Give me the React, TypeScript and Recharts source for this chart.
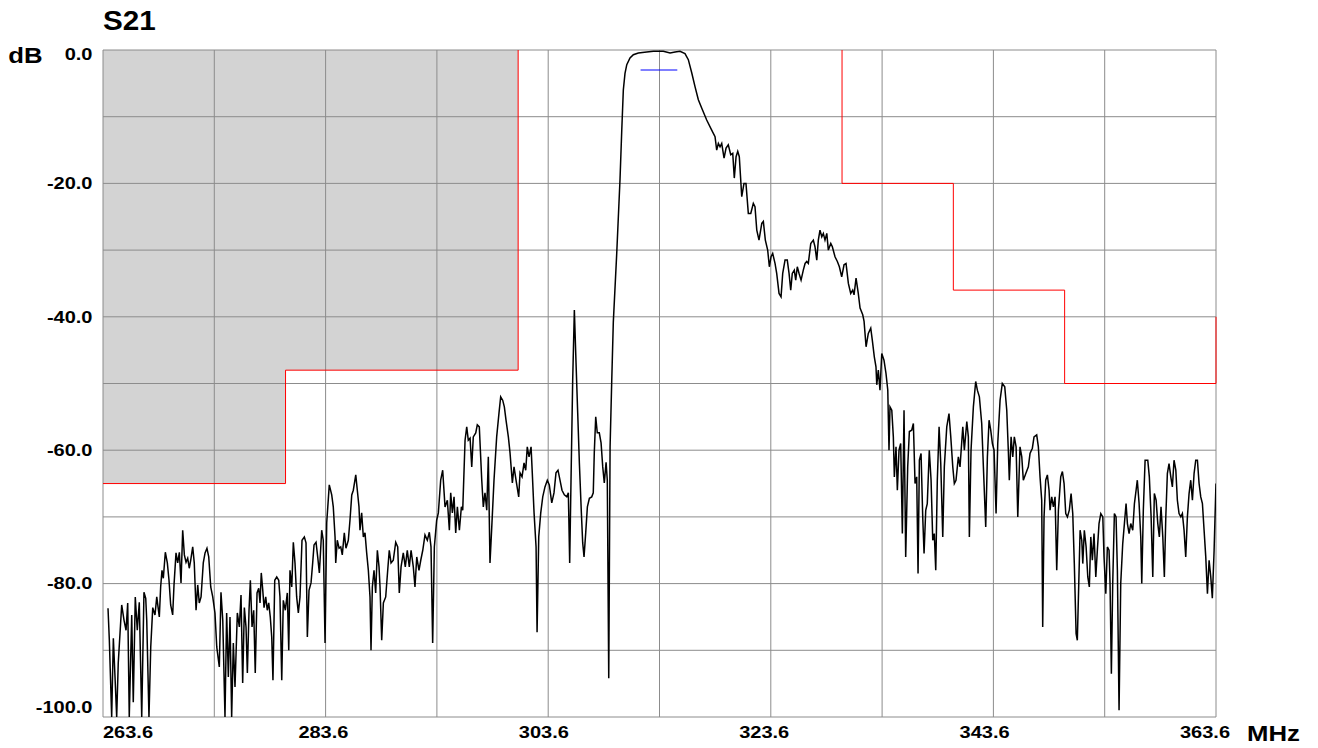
import React from "react";
import {
  LineChart,
  Line,
  XAxis,
  YAxis,
  ReferenceArea,
  ReferenceLine,
} from "recharts";

// Axis ticks (grid every 10 MHz / 10 dB, labels every 20)
const xTicks = [263.6, 273.6, 283.6, 293.6, 303.6, 313.6, 323.6, 333.6, 343.6, 353.6, 363.6];
const yTicks = [0, -10, -20, -30, -40, -50, -60, -70, -80, -90, -100];

// Measured S21 trace: [frequency MHz, level dB]
const s21Trace: [number, number][] = [
  [264.05, -83.7], [264.17, -88.5], [264.38, -100], [264.53, -88.2], [264.68, -94.0], [264.83, -100],
  [264.97, -91.9], [265.13, -87.4], [265.28, -83.2], [265.49, -85.5], [265.67, -87.0], [265.82, -82.9],
  [265.96, -100], [266.18, -84.7], [266.32, -97.8], [266.5, -82.0], [266.68, -87.0], [266.86, -82.8],
  [267.08, -100], [267.28, -81.3], [267.44, -82.2], [267.53, -85.5], [267.73, -100], [267.89, -89.5],
  [268.07, -83.6], [268.27, -84.7], [268.43, -82.0], [268.66, -85.0], [268.78, -80.5], [268.9, -78.0],
  [269.02, -79.2], [269.2, -75.3], [269.38, -76.9], [269.53, -79.5], [269.68, -83.2], [269.86, -84.7],
  [269.98, -80.2], [270.16, -75.4], [270.31, -76.9], [270.46, -75.3], [270.61, -79.9], [270.76, -72.0],
  [270.91, -75.7], [271.06, -76.8], [271.21, -76.2], [271.35, -77.7], [271.48, -76.5], [271.66, -74.5],
  [271.8, -76.9], [271.96, -84.0], [272.11, -80.2], [272.25, -82.9], [272.41, -82.0], [272.61, -76.9],
  [272.77, -75.4], [272.94, -74.7], [273.1, -76.0], [273.28, -80.5], [273.46, -82.0], [273.66, -84.4],
  [273.82, -89.5], [274.05, -92.5], [274.2, -81.3], [274.36, -85.5], [274.56, -100], [274.71, -84.4],
  [274.86, -94.0], [275.01, -85.0], [275.16, -100], [275.31, -88.9], [275.46, -95.5], [275.67, -84.4],
  [275.85, -86.5], [276.0, -81.7], [276.15, -94.9], [276.3, -83.6], [276.45, -86.5], [276.57, -93.4],
  [276.72, -84.0], [276.84, -79.5], [276.99, -86.5], [277.14, -84.0], [277.28, -93.4], [277.44, -81.4],
  [277.59, -80.7], [277.71, -82.9], [277.82, -78.4], [277.95, -80.9], [278.07, -83.6], [278.22, -82.0],
  [278.36, -84.0], [278.49, -82.9], [278.63, -85.0], [278.76, -88.0], [278.87, -94.5], [279.03, -79.5],
  [279.21, -79.0], [279.39, -79.5], [279.5, -82.0], [279.66, -94.5], [279.8, -82.5], [279.98, -84.0],
  [280.16, -81.4], [280.29, -90.0], [280.4, -78.0], [280.56, -80.5], [280.7, -73.8], [280.85, -76.9],
  [281.0, -82.0], [281.15, -84.4], [281.3, -82.0], [281.48, -73.5], [281.69, -73.0], [281.84, -73.9],
  [281.96, -88.0], [282.11, -81.0], [282.29, -79.9], [282.44, -76.9], [282.56, -74.2], [282.74, -73.8],
  [282.89, -76.0], [283.04, -78.4], [283.25, -72.0], [283.39, -73.5], [283.55, -88.9], [283.7, -70.9],
  [283.93, -65.2], [284.15, -66.7], [284.29, -68.5], [284.45, -73.0], [284.51, -76.9], [284.65, -73.5],
  [284.81, -74.7], [284.96, -74.5], [285.1, -75.7], [285.28, -72.4], [285.43, -74.7], [285.64, -73.5],
  [285.79, -70.5], [285.95, -66.7], [286.09, -66.0], [286.31, -63.7], [286.45, -66.0], [286.6, -68.5],
  [286.69, -72.0], [286.84, -69.4], [286.99, -73.0], [287.14, -72.4], [287.29, -75.4], [287.44, -78.0],
  [287.59, -82.0], [287.68, -90.0], [287.8, -80.5], [287.95, -78.0], [288.1, -81.4], [288.25, -75.0],
  [288.4, -77.5], [288.49, -80.5], [288.64, -88.5], [288.79, -82.9], [289.0, -82.0], [289.18, -78.0],
  [289.32, -75.0], [289.48, -76.9], [289.68, -76.5], [289.9, -73.8], [290.08, -74.5], [290.22, -81.4],
  [290.38, -77.5], [290.58, -75.4], [290.76, -77.5], [290.94, -75.0], [291.12, -77.5], [291.28, -75.0],
  [291.48, -77.5], [291.63, -80.5], [291.79, -76.0], [291.99, -78.0], [292.15, -76.5], [292.33, -75.0],
  [292.53, -72.7], [292.74, -73.5], [292.92, -72.3], [293.07, -74.5], [293.22, -88.9], [293.37, -74.5],
  [293.58, -70.5], [293.73, -69.4], [293.94, -64.5], [294.12, -63.0], [294.33, -68.5], [294.54, -67.5],
  [294.72, -72.0], [294.84, -66.4], [294.99, -69.4], [295.14, -67.0], [295.29, -72.4], [295.44, -68.5],
  [295.62, -72.0], [295.8, -68.5], [295.92, -69.0], [296.13, -58.5], [296.28, -56.5], [296.42, -58.5],
  [296.58, -58.2], [296.73, -62.5], [296.87, -58.0], [297.09, -57.4], [297.23, -56.2], [297.41, -56.5],
  [297.63, -64.5], [297.77, -68.5], [297.92, -66.4], [298.08, -69.0], [298.22, -61.0], [298.37, -76.9],
  [298.53, -71.5], [298.73, -64.5], [298.97, -58.0], [299.18, -54.4], [299.33, -52.0], [299.51, -52.5],
  [299.66, -53.5], [299.81, -55.5], [300.02, -58.0], [300.17, -60.4], [300.38, -64.9], [300.53, -62.5],
  [300.71, -64.5], [300.95, -67.0], [301.07, -63.4], [301.25, -64.0], [301.43, -61.9], [301.58, -63.0],
  [301.72, -59.5], [301.88, -61.0], [302.06, -59.5], [302.17, -63.4], [302.33, -69.4], [302.51, -74.5],
  [302.6, -87.3], [302.75, -73.0], [302.93, -69.4], [303.11, -67.0], [303.31, -65.5], [303.52, -64.5],
  [303.7, -65.2], [303.92, -67.9], [304.12, -66.4], [304.3, -63.4], [304.48, -63.0], [304.66, -64.5],
  [304.84, -66.0], [305.05, -66.7], [305.27, -67.0], [305.41, -66.4], [305.53, -76.9], [305.65, -64.5],
  [305.8, -49.5], [305.95, -39.0], [306.1, -46.9], [306.25, -54.4], [306.4, -61.9], [306.58, -69.4],
  [306.7, -73.9], [306.82, -76.0], [306.97, -72.4], [307.12, -68.5], [307.3, -67.2], [307.51, -67.0],
  [307.65, -66.4], [307.74, -60.4], [307.87, -55.0], [308.01, -57.4], [308.19, -57.4], [308.35, -58.9],
  [308.5, -62.5], [308.64, -64.9], [308.8, -61.8], [308.91, -64.5], [309.04, -94.2], [309.16, -59.5],
  [309.31, -49.5], [309.45, -40.8], [309.76, -30.4], [310.05, -19.5], [310.21, -12.0], [310.35, -6.0],
  [310.5, -3.5], [310.66, -2.2], [310.95, -1.2], [311.25, -0.7], [311.7, -0.45], [312.45, -0.3],
  [313.05, -0.2], [313.94, -0.2], [314.55, -0.45], [315.0, -0.3], [315.44, -0.2], [315.89, -0.55],
  [316.19, -1.45], [316.5, -3.45], [316.79, -5.5], [317.09, -7.45], [317.39, -8.7], [317.84, -10.5],
  [318.29, -12.0], [318.59, -13.0], [318.74, -15.0], [318.89, -14.0], [319.04, -14.5], [319.19, -14.0],
  [319.4, -16.2], [319.58, -14.7], [319.78, -14.2], [320.0, -15.7], [320.18, -15.5], [320.32, -19.2],
  [320.48, -16.0], [320.63, -15.2], [320.77, -16.0], [320.99, -22.0], [321.19, -20.0], [321.37, -20.0],
  [321.58, -24.5], [321.8, -24.5], [322.03, -23.0], [322.18, -23.5], [322.34, -27.0], [322.54, -28.5],
  [322.79, -26.0], [322.93, -25.7], [323.11, -28.5], [323.32, -30.0], [323.47, -32.5], [323.62, -31.0],
  [323.77, -30.5], [323.98, -32.0], [324.13, -33.5], [324.34, -36.5], [324.52, -37.0], [324.67, -33.5],
  [324.88, -31.5], [325.08, -31.5], [325.24, -33.5], [325.39, -36.0], [325.53, -33.5], [325.71, -33.0],
  [325.84, -34.5], [325.98, -32.5], [326.14, -33.5], [326.32, -34.5], [326.52, -33.0], [326.68, -32.0],
  [326.83, -31.7], [326.97, -32.0], [327.19, -29.0], [327.42, -28.5], [327.57, -29.5], [327.73, -31.5],
  [327.87, -28.5], [328.02, -27.0], [328.18, -28.0], [328.32, -27.5], [328.47, -28.5], [328.63, -27.5],
  [328.77, -30.0], [328.99, -29.0], [329.13, -29.5], [329.37, -31.0], [329.58, -31.7], [329.76, -32.5],
  [329.97, -34.0], [330.18, -32.2], [330.36, -32.0], [330.57, -35.0], [330.78, -36.5], [330.96, -36.0],
  [331.08, -36.7], [331.26, -34.2], [331.46, -36.5], [331.62, -38.7], [331.86, -39.7], [331.98, -40.7],
  [332.16, -44.5], [332.36, -42.5], [332.58, -41.7], [332.72, -43.5], [332.9, -46.0], [333.05, -47.5],
  [333.12, -50.2], [333.26, -48.0], [333.41, -51.0], [333.57, -45.5], [333.77, -46.5], [333.95, -48.5],
  [334.11, -51.0], [334.22, -60.0], [334.31, -53.5], [334.47, -54.0], [334.61, -58.0], [334.7, -64.0],
  [334.85, -59.5], [334.97, -66.0], [335.12, -60.0], [335.27, -59.0], [335.42, -72.5], [335.57, -54.0],
  [335.72, -76.0], [335.9, -62.5], [336.05, -57.2], [336.26, -57.0], [336.41, -56.0], [336.56, -65.0],
  [336.71, -64.0], [336.83, -78.5], [336.95, -61.5], [337.1, -60.5], [337.25, -70.0], [337.37, -75.5],
  [337.52, -69.0], [337.66, -68.0], [337.84, -60.0], [338.0, -64.5], [338.15, -73.5], [338.29, -72.5],
  [338.42, -78.0], [338.56, -64.5], [338.72, -56.5], [338.87, -62.0], [339.05, -73.0], [339.19, -62.5],
  [339.41, -56.5], [339.61, -54.5], [339.77, -58.0], [339.95, -62.5], [340.09, -65.0], [340.24, -64.5],
  [340.45, -61.0], [340.6, -62.5], [340.85, -56.5], [340.99, -60.0], [341.21, -55.7], [341.35, -58.0],
  [341.44, -73.0], [341.59, -60.0], [341.8, -53.5], [342.01, -49.7], [342.16, -51.0], [342.34, -52.0],
  [342.55, -56.0], [342.7, -62.5], [342.91, -71.5], [343.06, -61.0], [343.21, -55.5], [343.36, -57.0],
  [343.51, -59.0], [343.66, -60.0], [343.84, -69.5], [343.99, -59.0], [344.2, -52.5], [344.4, -50.0],
  [344.62, -50.5], [344.8, -54.0], [344.94, -60.0], [345.03, -64.5], [345.19, -58.0], [345.34, -61.0],
  [345.48, -58.0], [345.64, -59.5], [345.79, -70.0], [345.99, -59.5], [346.15, -61.0], [346.29, -64.5],
  [346.51, -63.5], [346.74, -62.5], [346.89, -60.5], [347.1, -59.7], [347.25, -58.0], [347.49, -57.7],
  [347.64, -59.5], [347.79, -64.0], [347.94, -67.5], [348.03, -86.5], [348.15, -70.0], [348.3, -64.5],
  [348.45, -63.7], [348.6, -66.0], [348.69, -69.0], [348.84, -67.0], [348.99, -68.5], [349.14, -67.0],
  [349.29, -78.0], [349.44, -69.0], [349.65, -64.0], [349.8, -63.2], [349.95, -65.0], [350.1, -69.5],
  [350.25, -70.0], [350.42, -69.0], [350.58, -66.5], [350.73, -69.5], [350.87, -77.0], [351.03, -87.5],
  [351.14, -88.5], [351.27, -80.0], [351.39, -72.0], [351.54, -73.5], [351.63, -77.0], [351.77, -72.0],
  [351.93, -74.5], [352.08, -79.0], [352.22, -80.5], [352.35, -73.0], [352.49, -76.5], [352.64, -72.5],
  [352.8, -79.0], [352.94, -75.0], [353.09, -71.0], [353.25, -69.5], [353.43, -70.0], [353.54, -76.0],
  [353.7, -81.5], [353.84, -74.5], [353.99, -75.0], [354.08, -80.0], [354.2, -93.5], [354.32, -80.0],
  [354.47, -69.5], [354.62, -70.0], [354.74, -78.0], [354.89, -99.0], [355.04, -80.0], [355.22, -74.0],
  [355.37, -71.0], [355.52, -68.0], [355.64, -71.0], [355.79, -72.5], [355.94, -71.0], [356.12, -72.0],
  [356.27, -68.0], [356.42, -66.0], [356.53, -64.5], [356.69, -68.0], [356.84, -73.0], [356.93, -80.0],
  [357.07, -69.0], [357.23, -61.5], [357.47, -61.5], [357.61, -64.0], [357.77, -70.0], [357.92, -79.0],
  [358.06, -66.5], [358.22, -67.5], [358.37, -71.0], [358.51, -73.0], [358.66, -68.5], [358.82, -73.0],
  [358.96, -79.0], [359.09, -70.0], [359.23, -63.5], [359.38, -62.0], [359.54, -64.0], [359.68, -65.5],
  [359.83, -61.5], [359.99, -63.0], [360.13, -67.5], [360.28, -69.5], [360.44, -70.0], [360.58, -69.5],
  [360.73, -72.0], [360.88, -76.0], [361.03, -70.0], [361.18, -66.5], [361.33, -64.5], [361.48, -67.5],
  [361.63, -63.5], [361.78, -61.5], [361.93, -61.5], [362.08, -65.0], [362.23, -67.0], [362.38, -68.0],
  [362.53, -72.0], [362.68, -76.0], [362.83, -81.5], [362.98, -76.5], [363.13, -79.0], [363.27, -82.2],
  [363.43, -75.0], [363.58, -66.0], [363.6, -65.0],
];

// Shaded keep-out region below the passband (overlapping rectangles)
const lowerMaskBands = [
  { x1: 263.6, x2: 300.9, y1: -48, y2: 0 },
  { x1: 263.6, x2: 280, y1: -65, y2: 0 },
];

// Limit lines: [frequency MHz, level dB] corner points
const lowerLimit: [number, number][] = [
  [263.6, -65], [280, -65], [280, -48], [300.9, -48], [300.9, 0],
];
const upperLimit: [number, number][] = [
  [330, 0], [330, -20], [340, -20], [340, -36], [350, -36], [350, -50], [363.6, -50], [363.6, -40],
];
const passbandMarker: [number, number][] = [[311.9, -3], [315.2, -3]];

const chartData = s21Trace.map(([f, db]) => ({ f, db }));

const FONT = '"Liberation Sans", Arial, sans-serif';
const STRETCH = 1.25;
const GRID = "#8c8c8c";

const XTick = (props: any) => {
  const { x, payload } = props;
  const v: number = payload.value;
  const step = Math.round((v - 263.6) / 10);
  if (step % 2 !== 0) return <g />;
  const j = step / 2;
  const anchor = j === 0 ? "start" : "middle";
  const tx = x + (j === 0 ? 0 : -2.2 * j);
  return (
    <g transform={`translate(${tx},738) scale(${STRETCH},1)`}>
      <text x={0} y={0} textAnchor={anchor} fontFamily={FONT} fontWeight="bold" fontSize={16} fill="#000">
        {v.toFixed(1)}
      </text>
    </g>
  );
};

const YTick = (props: any) => {
  const { y, payload } = props;
  const v: number = payload.value;
  if (v % 20 !== 0) return <g />;
  let by = y + 5.8;
  if (v === 0) by = y + 10;
  if (v === -100) by = y - 3.7;
  return (
    <g transform={`translate(92.5,${by}) scale(${STRETCH},1)`}>
      <text x={0} y={0} textAnchor="end" fontFamily={FONT} fontWeight="bold" fontSize={16} fill="#000">
        {v.toFixed(1)}
      </text>
    </g>
  );
};

const segments = (pts: [number, number][]) =>
  pts.slice(1).map((p, i) => ({ a: pts[i], b: p }));

export default function App() {
  return (
    <div style={{ position: "absolute", left: 0, top: 0, width: 1318, height: 748, background: "#fff" }}>
      <LineChart
        width={1318}
        height={748}
        data={chartData}
        margin={{ top: 50, right: 102, bottom: 0, left: 0 }}
      >
        <XAxis
          type="number"
          dataKey="f"
          domain={[263.6, 363.6]}
          ticks={xTicks}
          allowDataOverflow
          height={31}
          axisLine={false}
          tickLine={false}
          tick={<XTick />}
          interval={0}
        />
        <YAxis
          type="number"
          domain={[-100, 0]}
          ticks={yTicks}
          allowDataOverflow
          width={103}
          axisLine={false}
          tickLine={false}
          tick={<YTick />}
          interval={0}
        />
        {lowerMaskBands.map((b, i) => (
          <ReferenceArea
            key={`band-${i}`}
            x1={b.x1}
            x2={b.x2}
            y1={b.y1}
            y2={b.y2}
            fill="#d3d3d3"
            fillOpacity={1}
            stroke="none"
          />
        ))}
        {xTicks.map((t) => (
          <ReferenceLine key={`gx-${t}`} x={t} stroke={GRID} strokeWidth={1} />
        ))}
        {yTicks.map((t) => (
          <ReferenceLine key={`gy-${t}`} y={t} stroke={GRID} strokeWidth={1} />
        ))}
        {segments(lowerLimit).map((s, i) => (
          <ReferenceLine
            key={`lo-${i}`}
            segment={[{ x: s.a[0], y: s.a[1] }, { x: s.b[0], y: s.b[1] }]}
            stroke="#ff0000"
            strokeWidth={1}
          />
        ))}
        {segments(upperLimit).map((s, i) => (
          <ReferenceLine
            key={`hi-${i}`}
            segment={[{ x: s.a[0], y: s.a[1] }, { x: s.b[0], y: s.b[1] }]}
            stroke="#ff0000"
            strokeWidth={1}
          />
        ))}
        <ReferenceLine
          segment={[
            { x: passbandMarker[0][0], y: passbandMarker[0][1] },
            { x: passbandMarker[1][0], y: passbandMarker[1][1] },
          ]}
          stroke="#0000ff"
          strokeWidth={1}
        />
        <Line
          type="linear"
          dataKey="db"
          stroke="#000"
          strokeWidth={1.5}
          dot={false}
          activeDot={false}
          isAnimationActive={false}
        />
      </LineChart>
      <svg
        width={1318}
        height={748}
        style={{ position: "absolute", left: 0, top: 0, pointerEvents: "none" }}
      >
        <g transform="translate(103,30) scale(1.06,1)">
          <text fontFamily={FONT} fontWeight="bold" fontSize={28} fill="#000">S21</text>
        </g>
        <g transform="translate(8.3,63.3) scale(1.12,1)">
          <text fontFamily={FONT} fontWeight="bold" fontSize={23} fill="#000">dB</text>
        </g>
        <g transform="translate(1247,741) scale(1.12,1)">
          <text fontFamily={FONT} fontWeight="bold" fontSize={23} fill="#000">MHz</text>
        </g>
      </svg>
    </div>
  );
}
